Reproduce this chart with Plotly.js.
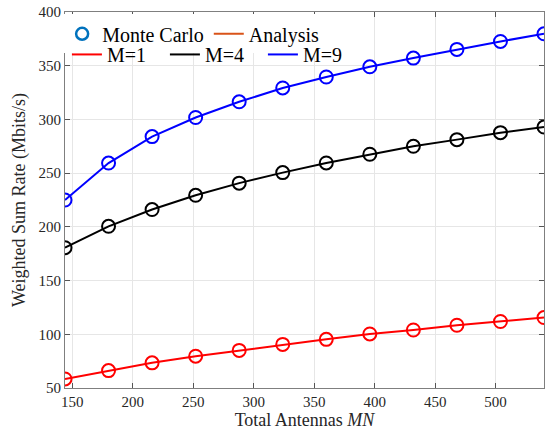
<!DOCTYPE html>
<html><head><meta charset="utf-8">
<script src="https://cdn.plot.ly/plotly-3.0.1.min.js"></script>
<style>html,body{margin:0;padding:0;background:#fff}#c{width:549px;height:435px}</style>
</head><body><div id="c"></div>
<script>
const antennas = [144, 180, 216, 252, 288, 324, 360, 396, 432, 468, 504, 540];
const rateM1 = [58.4, 66.2, 73.4, 79.6, 85.0, 90.6, 95.3, 100.3, 104.0, 108.4, 111.9, 115.6];
const rateM4 = [180.6, 200.5, 216.1, 229.4, 240.7, 250.5, 259.5, 267.6, 275.0, 281.2, 287.7, 292.9];
const rateM9 = [225.0, 259.4, 284.0, 301.8, 316.4, 329.3, 339.5, 349.0, 357.1, 365.2, 372.6, 379.7];
const seriesNames = ['M=1', 'M=4', 'M=9'];
const seriesColors = ['#ff0000', '#000000', '#0000ff'];
const seriesData = [rateM1, rateM4, rateM9];

const font = 'Liberation Serif';
const traces = [];
traces.push({x:[null], y:[null], mode:'markers', name:'Monte Carlo', legend:'legend',
  marker:{symbol:'circle-open', size:12, color:'#0072BD', line:{width:2.5, color:'#0072BD'}}});
traces.push({x:[null], y:[null], mode:'lines', name:'Analysis', legend:'legend',
  line:{color:'#D95319', width:2}});
seriesData.forEach((d, i) => {
  traces.push({x: antennas, y: d, mode:'lines', name: seriesNames[i], legend:'legend2',
    line:{color: seriesColors[i], width:2}});
  traces.push({x: antennas, y: d, mode:'markers', showlegend:false,
    marker:{symbol:'circle-open', size:13, color: seriesColors[i], line:{width:2, color: seriesColors[i]}}});
});

const axisCommon = {
  showline:true, linecolor:'#7f7f7f', linewidth:1, mirror:'ticks',
  ticks:'inside', ticklen:5, tickcolor:'#555',
  showgrid:true, gridcolor:'#e6e6e6', gridwidth:1, zeroline:false,
  tickfont:{family:font, size:15, color:'#262626'}
};
const layout = {
  width:549, height:435,
  margin:{l:65, r:5, t:12, b:47},
  paper_bgcolor:'#fff', plot_bgcolor:'#fff',
  font:{family:font, color:'#262626'},
  xaxis: Object.assign({}, axisCommon, {range:[144, 540], tick0:150, dtick:50,
    title:{text:'Total Antennas <i>MN</i>', font:{family:font, size:18, color:'#262626'}, standoff:4}}),
  yaxis: Object.assign({}, axisCommon, {range:[50, 400], tick0:50, dtick:50,
    title:{text:'Weighted Sum Rate (Mbits/s)', font:{family:font, size:18, color:'#262626'}, standoff:8}}),
  legend:{orientation:'h', x:-0.006, y:0.994, xanchor:'left', yanchor:'top',
    bgcolor:'#ffffff', font:{family:font, size:20, color:'#000'},
    itemwidth:30, tracegroupgap:0},
  legend2:{orientation:'h', x:0.004, y:0.939, xanchor:'left', yanchor:'top',
    bgcolor:'rgba(255,255,255,0)', font:{family:font, size:20, color:'#000'},
    itemwidth:30, tracegroupgap:0, entrywidthmode:'pixels', entrywidth:53},
  showlegend:true
};
Plotly.newPlot('c', traces, layout, {displayModeBar:false, staticPlot:true});
</script>
</body></html>
